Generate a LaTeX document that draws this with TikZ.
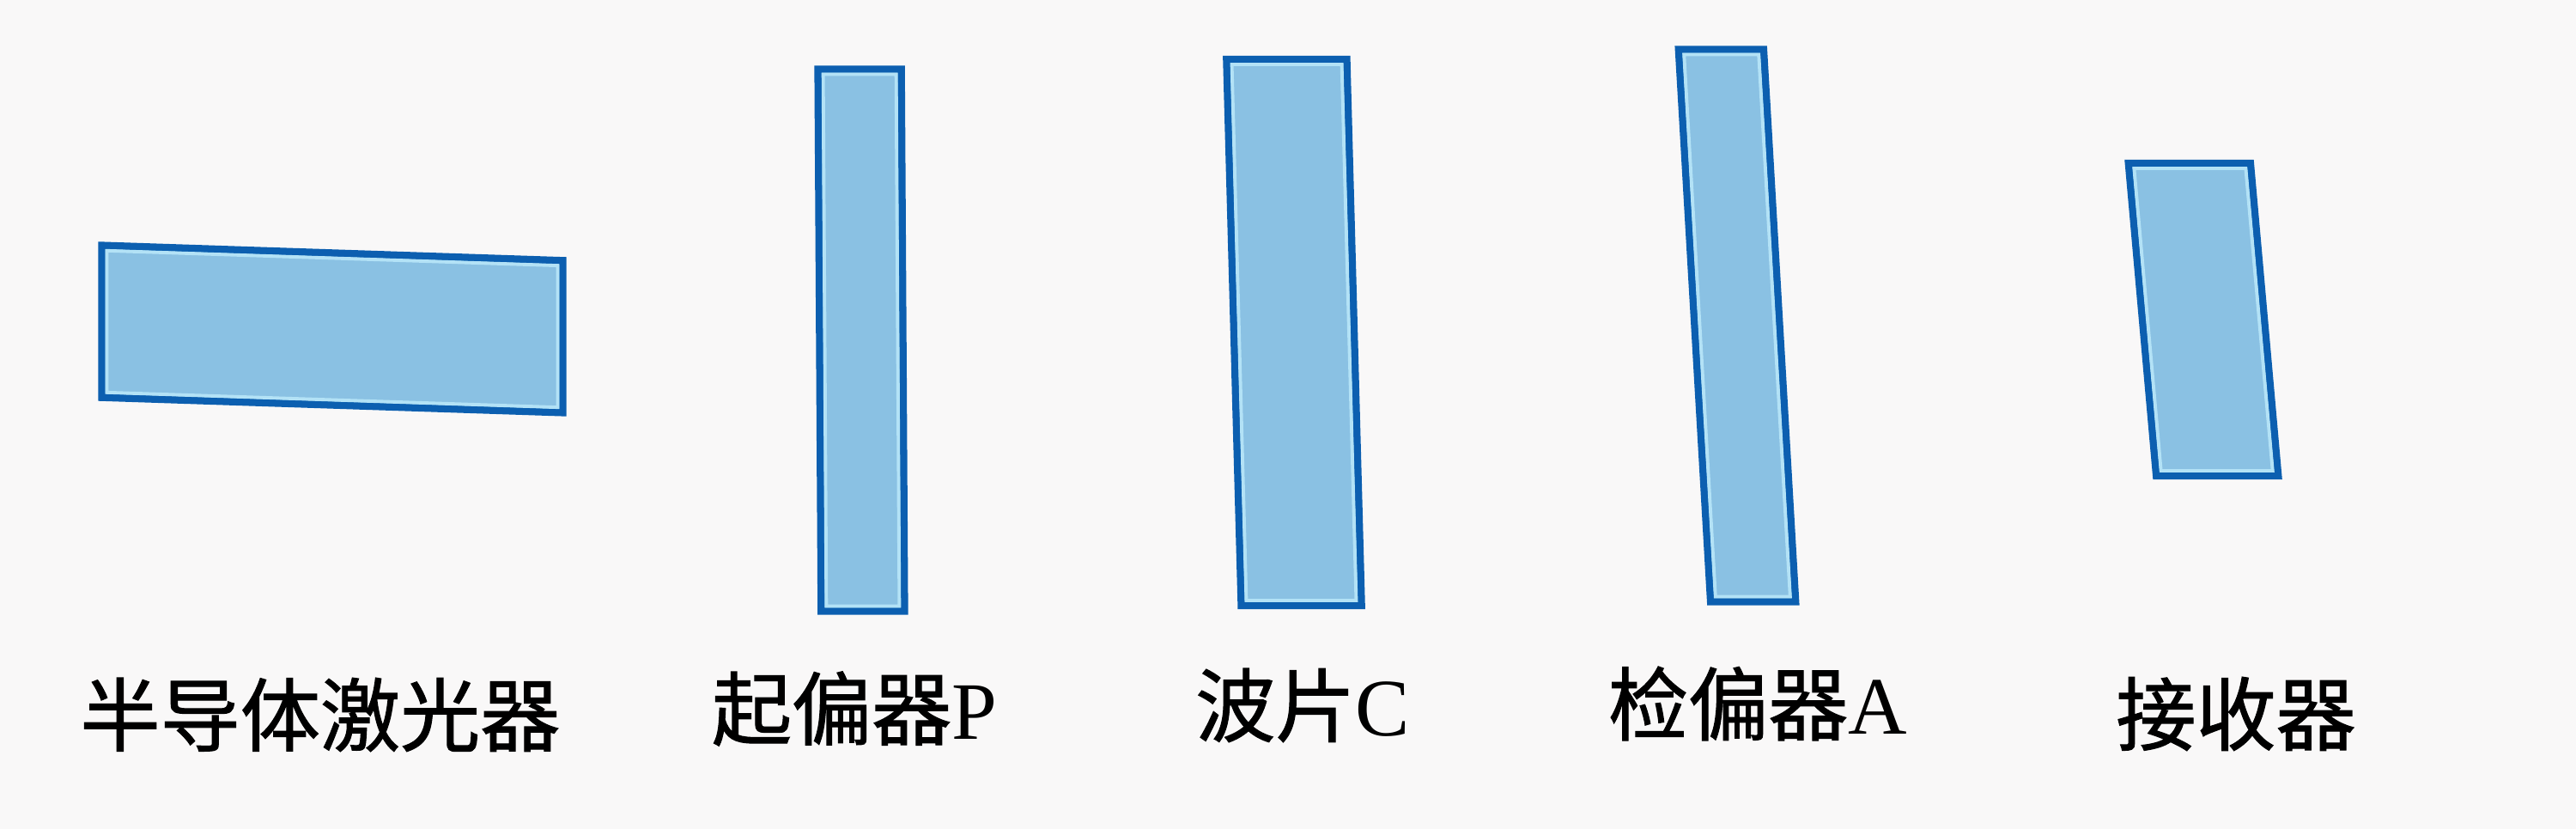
\documentclass[tikz,border=0pt]{standalone}
\usepackage{fontspec}
\setmainfont{Liberation Serif}
\newfontfamily\cjk[FakeBold=1.2]{Noto Sans CJK SC}
\usetikzlibrary{positioning}

\definecolor{paper}{HTML}{F9F8F8}
\definecolor{platefill}{HTML}{8AC1E3}
\definecolor{plateedge}{HTML}{0C5FB0}
\definecolor{platehl}{HTML}{B3E2F6}

\newcommand{\lat}[1]{{\rmfamily\fontsize{27}{30}\selectfont #1}}

\tikzset{
  plate/.style = {draw=plateedge, fill=platefill, line width=2.4pt, inner sep=0pt},
  glint/.style = {draw=platehl, line width=1.1pt, inner sep=0pt},
  tag/.style   = {font=\cjk\fontsize{26.5}{30}\selectfont, text=black, inner sep=0pt}
}

\begin{document}
\begin{tikzpicture}
  \useasboundingbox [fill=paper] (0,0) rectangle (30,9.65);

  \node (laser) [plate, minimum width=5.37cm, minimum height=1.77cm, yslant=-0.033] at (3.87,5.82) {};
  \node [glint, minimum width=5.25cm, minimum height=1.65cm, yslant=-0.033] at (laser.center) {};

  \node (P) [plate, minimum width=0.97cm, minimum height=6.31cm, xslant=-0.006] at (10.03,5.69) {};
  \node [glint, minimum width=0.85cm, minimum height=6.19cm, xslant=-0.006] at (P.center) {};

  \node (C) [plate, minimum width=1.40cm, minimum height=6.36cm, xslant=-0.027] at (15.07,5.78) {};
  \node [glint, minimum width=1.28cm, minimum height=6.24cm, xslant=-0.027] at (C.center) {};

  \node (A) [plate, minimum width=0.99cm, minimum height=6.43cm, xslant=-0.058] at (20.23,5.86) {};
  \node [glint, minimum width=0.87cm, minimum height=6.31cm, xslant=-0.058] at (A.center) {};

  \node (rx) [plate, minimum width=1.42cm, minimum height=3.64cm, xslant=-0.089] at (25.66,5.93) {};
  \node [glint, minimum width=1.30cm, minimum height=3.52cm, xslant=-0.089] at (rx.center) {};

  \node (laser-tag) [tag] at (3.73,1.33) {半导体激光器};
  \node (P-tag) [tag] at (9.95,1.40) {起偏器\lat{P}};
  \node (C-tag) [tag] at (15.17,1.44) {波片\lat{C}};
  \node (A-tag) [tag] at (20.47,1.46) {检偏器\lat{A}};
  \node (rx-tag) [tag] at (26.04,1.34) {接收器};
\end{tikzpicture}
\end{document}
